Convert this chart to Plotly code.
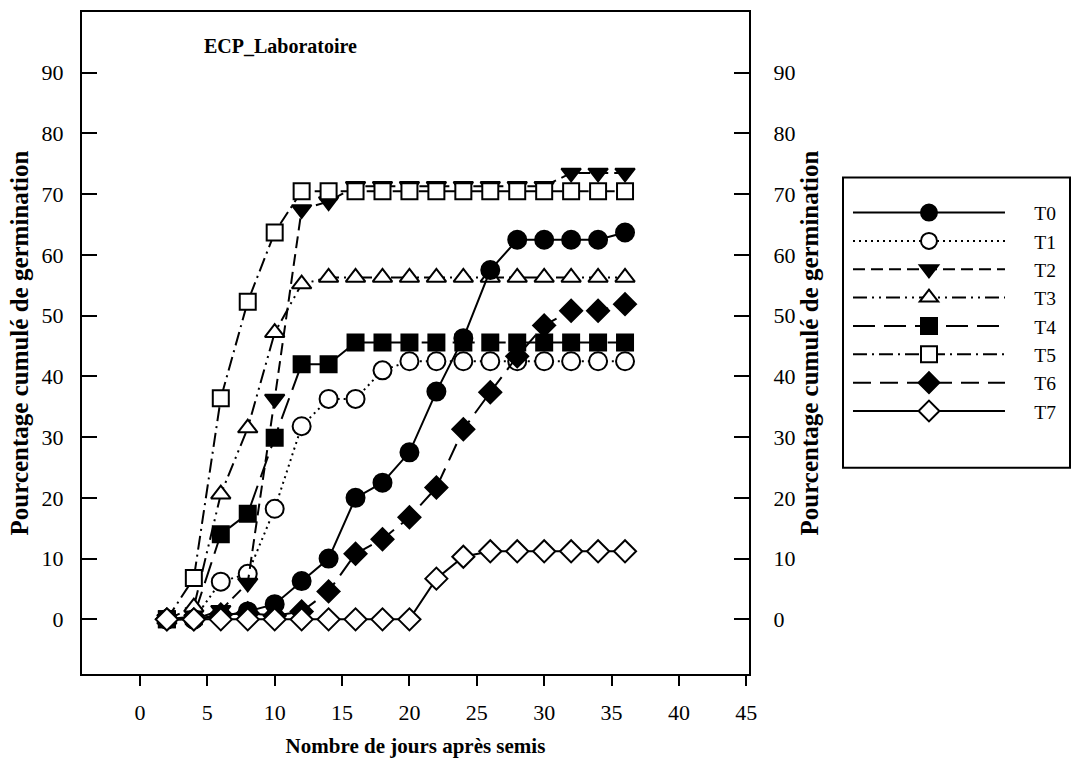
import plotly.graph_objects as go

days = [2, 4, 6, 8, 10, 12, 14, 16, 18, 20, 22, 24, 26, 28, 30, 32, 34, 36]
T0 = [0, 0, 0.5, 1.3, 2.5, 6.3, 10.0, 20.0, 22.5, 27.5, 37.5, 46.3, 57.5, 62.5, 62.5, 62.5, 62.5, 63.7]
T1 = [0, 0, 6.2, 7.5, 18.2, 31.8, 36.3, 36.3, 41.0, 42.5, 42.5, 42.5, 42.5, 42.5, 42.5, 42.5, 42.5, 42.5]
T2 = [0, 0, 1.5, 6.0, 36.3, 67.5, 68.8, 71.3, 71.3, 71.3, 71.3, 71.3, 71.3, 71.3, 71.3, 73.5, 73.5, 73.5]
T3 = [0, 2.0, 20.6, 31.5, 47.2, 55.2, 56.3, 56.3, 56.3, 56.3, 56.3, 56.3, 56.3, 56.3, 56.3, 56.3, 56.3, 56.3]
T4 = [0, 0.5, 14.0, 17.4, 29.9, 42.0, 42.0, 45.6, 45.6, 45.6, 45.6, 45.6, 45.6, 45.6, 45.6, 45.6, 45.6, 45.6]
T5 = [0, 6.8, 36.4, 52.3, 63.7, 70.5, 70.5, 70.5, 70.5, 70.5, 70.5, 70.5, 70.5, 70.5, 70.5, 70.5, 70.5, 70.5]
T6 = [0, 0, 0.8, 1.0, 0.6, 1.3, 4.6, 10.8, 13.2, 16.8, 21.7, 31.3, 37.4, 43.3, 48.4, 50.8, 50.8, 51.9]
T7 = [0, 0, 0, 0, 0, 0, 0, 0, 0, 0, 6.7, 10.3, 11.2, 11.2, 11.2, 11.2, 11.2, 11.2]

x_ticks = [0, 5, 10, 15, 20, 25, 30, 35, 40, 45]
y_ticks = [0, 10, 20, 30, 40, 50, 60, 70, 80, 90]

title_text = "ECP_Laboratoire"
x_title = "Nombre de jours après semis"
y_title = "Pourcentage cumulé de germination"

FONT = "Liberation Serif, Times New Roman, Times, serif"
PAD = "\u00a0" * 5

# name, values, symbol, fill, dash, marker size, legend rank, y axis
series = [
    ("T1", T1, "circle", "white", "2px,4px", 18, 2, "y"),
    ("T4", T4, "square", "black", "22px,9px", 16, 5, "y"),
    ("T2", T2, "triangle-down", "black", "12px,6px", 17, 3, "y"),
    ("T3", T3, "triangle-up", "white", "14px,5px,2px,5px,2px,5px", 17, 4, "y"),
    ("T5", T5, "square", "white", "14px,5px,2px,5px", 16, 6, "y"),
    ("T6", T6, "diamond", "black", "18px,9px", 17, 7, "y"),
    ("T0", T0, "circle", "black", "solid", 18, 1, "y"),
    ("T7", T7, "diamond", "white", "solid", 17, 8, "y2"),
]

fig = go.Figure()
for name, vals, sym, fill, dash, size, rank, yax in series:
    fig.add_trace(go.Scatter(
        x=days, y=vals, name=PAD + name, mode="lines+markers",
        line=dict(color="black", width=2, dash=dash),
        marker=dict(symbol=sym, size=size, color=fill,
                    line=dict(color="black", width=2)),
        legendrank=rank, yaxis=yax,
    ))

fig.update_layout(
    width=1074, height=764,
    margin=dict(l=82, r=325, t=10, b=86),
    plot_bgcolor="white", paper_bgcolor="white",
    font=dict(family=FONT, size=22, color="black"),
    showlegend=True,
    legend=dict(
        x=1.1484, y=0.726, xanchor="left", yanchor="top",
        borderwidth=0,
        font=dict(family=FONT, size=19.5, color="black"),
        itemwidth=152, tracegroupgap=0,
        bgcolor="rgba(0,0,0,0)",
    ),
    xaxis=dict(
        range=[-4.3, 45.2], tickvals=x_ticks,
        ticks="outside", ticklen=10, tickwidth=2, tickcolor="black",
        showline=True, linecolor="black", linewidth=2, mirror=True,
        showgrid=False, zeroline=False,
        tickfont=dict(family=FONT, size=22), ticklabelstandoff=8,
        title=dict(text="<b>" + x_title + "</b>", font=dict(family=FONT, size=21), standoff=14),
    ),
    yaxis=dict(
        range=[-9, 100], tickvals=y_ticks,
        ticks="inside", ticklen=15, tickwidth=2, tickcolor="black",
        showline=True, linecolor="black", linewidth=2,
        showgrid=False, zeroline=False,
        tickfont=dict(family=FONT, size=22), ticklabelstandoff=12,
        title=dict(text="<b>" + y_title + "</b>", font=dict(family=FONT, size=25), standoff=6),
    ),
    yaxis2=dict(
        overlaying="y", side="right", anchor="x",
        range=[-9, 100], tickvals=y_ticks,
        ticks="inside", ticklen=15, tickwidth=2, tickcolor="black",
        showline=True, linecolor="black", linewidth=2,
        showgrid=False, zeroline=False,
        tickfont=dict(family=FONT, size=22), ticklabelstandoff=18,
        title=dict(text="<b>" + y_title + "</b>", font=dict(family=FONT, size=25), standoff=6),
    ),
    shapes=[dict(
        type="rect", xref="paper", yref="paper",
        x0=(843 - 82) / 667, x1=(1070 - 82) / 667,
        y0=(678 - 470) / 668, y1=(678 - 177) / 668,
        line=dict(color="black", width=2), fillcolor="rgba(0,0,0,0)",
    )],
    annotations=[dict(
        text="<b>" + title_text + "</b>", xref="paper", yref="paper",
        x=0.297, y=0.948, xanchor="center", yanchor="middle", showarrow=False,
        font=dict(family=FONT, size=20, color="black"),
    )],
)

fig.write_html("out.html")
